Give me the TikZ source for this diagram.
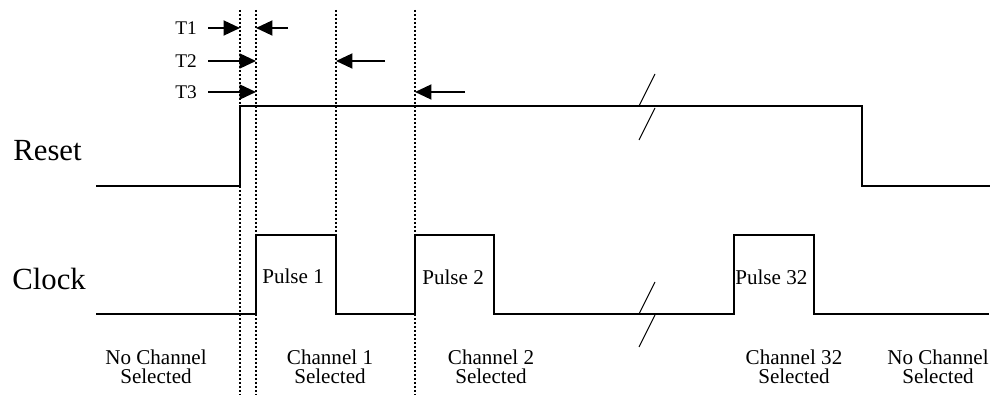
\documentclass[tikz,border=0pt]{standalone}
\usepackage{fontspec}
\setmainfont{Liberation Serif}
\usetikzlibrary{arrows.meta,calc}
\begin{document}
\begin{tikzpicture}[x=0.02cm,y=-0.02cm,
  sig/.style={line width=0.035cm},
  edge/.style={line width=0.045cm,dash pattern=on 0.04cm off 0.04cm},
  tarrow/.style={line width=0.04cm,-{Triangle[length=0.33cm,width=0.3cm]}},
  brk/.style={line width=0.02cm},
  lbl/.style={inner sep=0pt,font=\fontsize{12}{10.8}\selectfont},
  tlbl/.style={inner sep=0pt,anchor=west,font=\fontsize{11}{13}\selectfont},
  big/.style={inner sep=0pt,anchor=west,font=\fontsize{17.5}{20}\selectfont}]
  \useasboundingbox (0,0) rectangle (995,395);
  % timing edges
  \coordinate (d1) at (240,10);
  \coordinate (d2) at (256,10);
  \coordinate (d3) at (336,10);
  \coordinate (d4) at (415,10);
  \draw[edge] (d1) -- ++(0,385);
  \draw[edge] (d2) -- ++(0,385);
  \draw[edge] (d3) -- ++(0,304);
  \draw[edge] (d4) -- ++(0,385);
  % signals
  \node[big] (reset) at (13,151) {Reset};
  \node[big] (clock) at (12,278.5) {Clock};
  \draw[sig] (96,186) -- ++(144,0) -- ++(0,-80) -- ++(622,0) -- ++(0,80) -- ++(128,0);
  \draw[sig] (96,314) -- ++(160,0) -- ++(0,-79) -- ++(80,0) -- ++(0,79) -- ++(79,0)
    -- ++(0,-79) -- ++(79,0) -- ++(0,79) -- ++(240,0) -- ++(0,-79) -- ++(80,0)
    -- ++(0,79) -- ++(175,0);
  \draw[brk] (655,74) -- ++(-16,32) (655,108) -- ++(-16,32);
  \draw[brk] (655,282) -- ++(-16,32) (655,315) -- ++(-16,32);
  % delays
  \node[tlbl] (t1) at (175,28) {T1};
  \node[tlbl] (t2) at (175,61) {T2};
  \node[tlbl] (t3) at (175,92) {T3};
  \draw[tarrow] ($(t1.east)+(11,0)$) -- (t1 -| d1);
  \draw[tarrow] ($(t1 -| d2)+(32,0)$) -- (t1 -| d2);
  \draw[tarrow] ($(t2.east)+(11,0)$) -- (t2 -| d2);
  \draw[tarrow] ($(t2 -| d3)+(49,0)$) -- (t2 -| d3);
  \draw[tarrow] ($(t3.east)+(11,0)$) -- (t3 -| d2);
  \draw[tarrow] ($(t3 -| d4)+(50,0)$) -- (t3 -| d4);
  % pulses
  \node[lbl,anchor=west] (p1) at (262,276) {Pulse 1};
  \node[lbl,anchor=west] (p2) at (422,277) {Pulse 2};
  \node[lbl,anchor=west] (p32) at (735,277) {Pulse 32};
  % channels
  \node[lbl,align=center] (ch0) at (156,367) {No Channel\\Selected};
  \node[lbl,align=center] (ch1) at (330,367) {Channel 1\\Selected};
  \node[lbl,align=center] (ch2) at (491,367) {Channel 2\\Selected};
  \node[lbl,align=center] (ch32) at (794,367) {Channel 32\\Selected};
  \node[lbl,align=center] (chend) at (938,367) {No Channel\\Selected};
\end{tikzpicture}
\end{document}
